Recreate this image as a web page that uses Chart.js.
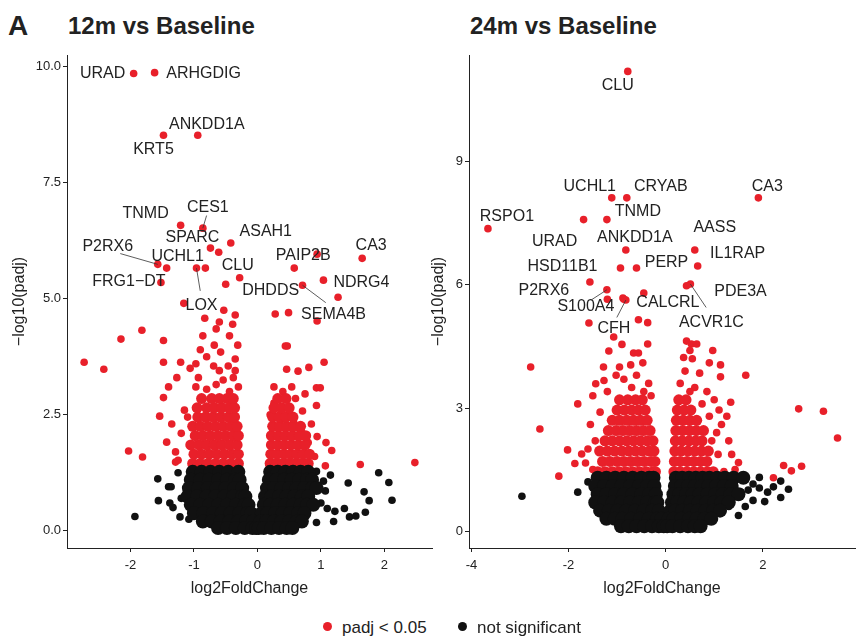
<!DOCTYPE html>
<html>
<head>
<meta charset="utf-8">
<script src="https://cdn.jsdelivr.net/npm/chart.js@4"></script>
<style>
  body { margin: 0; background: #fff; font-family: 'Liberation Sans', Arial, sans-serif; }
  .wrap { position: relative; width: 865px; height: 640px; }
  .box { position: absolute; top: 0; height: 610px; }
  .ttl { position: absolute; font-family: 'Liberation Sans Narrow', 'Liberation Sans', sans-serif; font-weight: bold; font-size: 24px; color: #222; }
  .leg { position: absolute; top: 618px; font-size: 17px; color: #222; }
  .dot { display: inline-block; width: 9px; height: 9px; border-radius: 50%; margin-right: 10px; vertical-align: 2px; }
</style>
</head>
<body>
<div class="wrap">
  <div class="ttl" style="left:8px;top:10px;font-size:28px">A</div>
  <div class="ttl" style="left:68px;top:12px">12m vs Baseline</div>
  <div class="ttl" style="left:470px;top:12px">24m vs Baseline</div>
  <div class="box" style="left:0;width:440px"><canvas id="c12"></canvas></div>
  <div class="box" style="left:425px;width:440px"><canvas id="c24"></canvas></div>
  <div class="leg" style="left:323px"><span class="dot" style="background:#e8202a"></span>padj &lt; 0.05</div>
  <div class="leg" style="left:458px"><span class="dot" style="background:#111"></span>not significant</div>
</div>
<script>
// --- 12m data ---
const xTicks12 = [-2, -1, 0, 1, 2];
const yTicks12 = [0, 2.5, 5, 7.5, 10];
const genes12 = ['URAD', 'ARHGDIG', 'ANKDD1A', 'KRT5', 'TNMD', 'CES1', 'SPARC', 'ASAH1', 'UCHL1', 'P2RX6', 'CLU', 'FRG1\u2212DT', 'LOX', 'DHDDS', 'PAIP2B', 'CA3', 'NDRG4', 'SEMA4B'];
const geneX12 = [-1.95, -1.62, -0.94, -1.48, -1.21, -0.86, -0.74, -0.42, -1.43, -1.57, -0.61, -1.52, -0.96, -0.5, 0.58, 1.65, 1.04, 0.71];
const geneY12 = [9.85, 9.87, 8.52, 8.52, 6.58, 6.52, 6.09, 6.2, 5.66, 5.74, 6.0, 5.35, 5.66, 5.31, 5.66, 5.87, 5.4, 5.29];
const red12 = [
  [-2.73,3.63],[-2.42,3.48],[-2.15,4.13],[-1.82,4.32],[-1.48,4.1],[-1.48,3.63],[-1.21,3.63],[-1.54,2.47],[-1.48,2.87],
  [-2.03,1.72],[-1.81,1.59],[-1.43,1.91],[-1.29,1.48],[-1.25,1.52],[-1.29,1.7],[-1.1,2.45],[-1.15,2.6],[-1.4,3.1],[-1.27,3.3],
  [-1.16,4.9],[-0.83,4.58],[-0.53,4.75],[-0.6,4.5],[-0.39,4.45],[-0.86,4.2],[-0.65,4.35],[-0.68,4.0],[-0.44,4.2],[-0.31,4.0],
  [-0.9,3.9],[-0.58,3.85],[-0.8,3.75],[-0.97,3.6],[-1.06,3.5],[-0.35,3.7],[-0.69,3.55],[-0.46,3.55],[-0.35,3.45],[-0.93,3.3],
  [-0.6,3.45],[-0.54,3.25],[-0.38,3.3],[-0.97,3.1],[-0.8,3.05],[-0.65,3.15],[-0.44,3.0],[-0.3,3.1],[-1.35,2.3],[-1.2,2.1],
  [-0.82,5.66],[-0.28,5.45],[-0.35,4.65],
  [0.28,4.67],[0.49,4.7],[0.94,4.52],[1.27,5.03],[0.44,3.98],[0.47,3.98],[0.46,3.48],[0.64,3.44],[0.81,3.52],[1.05,3.63],
  [0.93,3.08],[0.99,3.08],[0.26,3.1],[0.4,3.0],[0.54,3.1],[0.6,2.85],[0.75,2.95],[0.93,2.7],[0.71,2.58],[0.2,2.5],[0.26,2.75],
  [0.37,2.4],[0.57,2.35],[0.69,2.15],[0.94,2.03],[1.08,1.9],[1.17,1.73],[1.07,1.4],[1.62,1.43],[2.48,1.47],[0.94,5.96],
  [0.85,2.3],[0.9,1.6],[0.8,1.9]
];
const redCore12 = [
  [1.45, [-1.02,-0.9,-0.78,-0.66,-0.54,-0.42,-0.3, 0.2,0.3,0.4,0.5,0.6,0.7,0.8]],
  [1.65, [-1.0,-0.88,-0.76,-0.64,-0.52,-0.4,-0.3, 0.21,0.31,0.42,0.52,0.62,0.72,0.82]],
  [1.85, [-1.05,-0.92,-0.8,-0.68,-0.56,-0.44,-0.32, 0.22,0.32,0.42,0.53,0.64,0.75]],
  [2.05, [-0.98,-0.86,-0.74,-0.62,-0.5,-0.38,-0.3, 0.22,0.33,0.44,0.55,0.66,0.76]],
  [2.25, [-1.02,-0.9,-0.78,-0.66,-0.54,-0.42,-0.32, 0.24,0.35,0.46,0.57,0.68]],
  [2.45, [-0.94,-0.82,-0.7,-0.58,-0.46,-0.36, 0.24,0.34,0.45,0.56]],
  [2.65, [-0.95,-0.8,-0.68,-0.56,-0.44,-0.36, 0.26,0.38,0.5]],
  [2.85, [-0.88,-0.72,-0.6,-0.48,-0.38, 0.32,0.45]]
];
const black12 = [
  [-1.93,0.31],[-1.57,1.12],[-1.56,0.65],[-1.4,0.95],[-1.36,0.95],[-1.38,0.6],[-1.33,0.5],[-1.25,1.25],[-1.22,0.3],[-1.08,0.25],[-1.2,0.7],
  [1.43,1.03],[1.91,1.25],[2.07,1.04],[2.12,0.66],[1.68,0.84],[1.76,0.65],[1.45,0.3],[1.55,0.32],[1.7,0.4],[1.37,0.48],[1.22,0.42],
  [1.07,0.86],[1.04,1.07],[1.1,0.48],[0.93,0.18],[0.93,1.28],[1.15,1.2],[1.0,0.6],[1.2,0.2]
];
const blackCore12 = [
  [1.27, [-1.02,-0.88,-0.74,-0.6,-0.46,-0.3, 0.2,0.32,0.44,0.56,0.68,0.8]],
  [1.1, [-1.05,-0.9,-0.76,-0.62,-0.48,-0.35,-0.28, 0.18,0.3,0.42,0.54,0.66,0.78,0.86]],
  [0.92, [-1.08,-0.93,-0.78,-0.64,-0.5,-0.36,-0.24, 0.15,0.26,0.38,0.5,0.62,0.74,0.86,0.93]],
  [0.74, [-1.1,-0.95,-0.8,-0.66,-0.52,-0.38,-0.24,-0.19, 0.12,0.22,0.34,0.46,0.58,0.7,0.8]],
  [0.56, [-1.05,-0.9,-0.76,-0.62,-0.48,-0.34,-0.2,-0.14, 0.1,0.2,0.32,0.44,0.56,0.68,0.78,0.88]],
  [0.38, [-1.0,-0.85,-0.7,-0.56,-0.42,-0.28,-0.16,-0.1, 0.07,0.16,0.28,0.4,0.52,0.64,0.74]],
  [0.2, [-0.86,-0.72,-0.58,-0.44,-0.3,-0.18,-0.07, 0.05,0.14,0.26,0.38,0.5,0.62,0.7]],
  [0.06, [-0.62,-0.48,-0.34,-0.2,-0.08,-0.02, 0.02,0.1,0.22,0.34,0.46,0.55]]
];

// --- 24m data ---
const xTicks24 = [-4, -2, 0, 2];
const yTicks24 = [0, 3, 6, 9];
const genes24 = ['CLU', 'UCHL1', 'CRYAB', 'CA3', 'RSPO1', 'TNMD', 'URAD', 'ANKDD1A', 'AASS', 'IL1RAP', 'HSD11B1', 'PERP', 'P2RX6', 'PDE3A', 'S100A4', 'CALCRL', 'CFH', 'ACVR1C'];
const geneX24 = [-0.78, -1.11, -0.8, 1.91, -3.66, -1.21, -1.69, -0.82, 0.6, 0.66, -0.93, -0.6, -1.56, 0.43, -1.21, -0.88, -0.82, 0.51];
const geneY24 = [11.2, 8.12, 8.12, 8.12, 7.37, 7.59, 7.59, 6.85, 6.85, 6.46, 6.41, 6.41, 6.07, 5.98, 5.88, 5.68, 5.63, 6.02];
const red24 = [
  [-2.78,4.0],[-1.81,3.1],[-2.59,2.49],[-2.02,1.98],[-2.2,1.34],[-1.87,1.65],[-1.73,1.88],[-1.65,1.66],[-1.44,3.59],[-1.27,3.67],
  [-1.28,4.0],[-1.17,4.39],[-1.58,5.07],[-1.07,4.73],[-0.9,4.55],[-0.66,4.34],[-0.56,4.34],[-0.37,4.56],[-0.37,5.08],[-0.56,5.15],
  [-0.45,5.8],[-0.86,5.65],[-1.2,5.65],[-0.47,4.1],[-0.72,4.05],[-0.95,4.0],[-1.02,3.8],[-0.86,3.7],[-0.6,3.8],[-0.35,3.6],
  [-1.5,3.3],[-1.2,3.4],[-0.7,3.5],[-0.45,3.4],[-1.55,2.6],[-1.45,2.2],[-1.6,2.0],[-1.5,1.5],[-1.35,2.9],[-0.3,3.3],
  [0.43,4.63],[0.53,4.56],[0.64,4.56],[0.5,4.4],[0.97,4.4],[0.37,4.23],[0.55,4.2],[1.13,4.05],[1.13,3.76],[1.65,3.8],
  [0.4,3.9],[0.7,3.85],[0.9,4.1],[0.3,3.6],[0.6,3.5],[0.85,3.4],[1.0,3.2],[0.75,3.1],[0.5,3.4],
  [1.34,3.14],[1.1,2.95],[1.26,2.8],[1.3,2.2],[1.36,1.87],[1.5,1.67],[1.43,1.5],[1.08,1.87],[2.74,2.98],[3.25,2.92],
  [3.54,2.27],[2.43,1.6],[2.59,1.47],[2.8,1.58],[2.22,1.3],[1.05,2.4],[1.15,2.6],[0.95,2.2],[1.2,1.45],[0.9,2.8]
];
const redCore24 = [
  [1.45, [-1.4,-1.25,-1.1,-0.96,-0.82,-0.68,-0.54,-0.4,-0.26,-0.21, 0.17,0.3,0.44,0.58,0.72,0.86,0.98]],
  [1.7, [-1.3,-1.15,-1.0,-0.86,-0.72,-0.58,-0.44,-0.3,-0.22, 0.18,0.3,0.44,0.58,0.72,0.85]],
  [1.95, [-1.36,-1.2,-1.05,-0.9,-0.76,-0.62,-0.48,-0.34,-0.24, 0.19,0.32,0.46,0.6,0.74,0.88]],
  [2.2, [-1.25,-1.1,-0.95,-0.8,-0.66,-0.52,-0.38,-0.26, 0.2,0.34,0.48,0.62,0.75]],
  [2.45, [-1.18,-1.02,-0.88,-0.74,-0.6,-0.46,-0.32, 0.21,0.35,0.49,0.63,0.78]],
  [2.7, [-1.1,-0.95,-0.8,-0.66,-0.52,-0.38, 0.22,0.36,0.5,0.64]],
  [2.95, [-1.0,-0.85,-0.7,-0.56,-0.42, 0.24,0.38,0.52]],
  [3.2, [-0.95,-0.78,-0.62,-0.48, 0.27,0.42]]
];
const black24 = [
  [-2.96,0.85],[-1.81,0.95],[-1.42,1.05],[-1.41,0.84],[-1.27,0.8],[-1.6,1.2],
  [1.64,1.25],[1.8,1.15],[1.93,1.31],[1.93,1.05],[2.22,1.08],[2.37,1.22],[2.53,1.02],[2.37,0.82],[2.04,0.72],[1.64,0.6],
  [1.5,0.38],[1.8,0.75],[1.4,0.9],[1.55,0.95],[1.7,1.0],[2.1,0.95],[1.3,0.6]
];
const blackCore24 = [
  [1.3, [-1.4,-1.22,-1.04,-0.86,-0.68,-0.5,-0.34,-0.25, 0.21,0.34,0.48,0.62,0.76,0.9,1.06,1.22,1.4,1.6]],
  [1.1, [-1.45,-1.27,-1.09,-0.91,-0.73,-0.55,-0.38,-0.23, 0.19,0.32,0.46,0.6,0.74,0.88,1.04,1.2,1.36]],
  [0.9, [-1.4,-1.22,-1.04,-0.86,-0.68,-0.5,-0.34,-0.2, 0.16,0.28,0.42,0.56,0.7,0.86,1.02,1.18,1.34,1.5]],
  [0.7, [-1.45,-1.27,-1.09,-0.91,-0.73,-0.55,-0.38,-0.22,-0.17, 0.13,0.24,0.38,0.52,0.68,0.84,1.0,1.15,1.3]],
  [0.5, [-1.35,-1.17,-0.99,-0.81,-0.63,-0.45,-0.28,-0.14, 0.1,0.2,0.34,0.5,0.66,0.82,0.98,1.12]],
  [0.3, [-1.22,-1.05,-0.89,-0.71,-0.53,-0.35,-0.18,-0.09, 0.06,0.16,0.32,0.48,0.64,0.8,0.94]],
  [0.12, [-0.92,-0.76,-0.6,-0.44,-0.28,-0.14,-0.04, 0.03,0.14,0.3,0.46,0.6,0.72]]
];

// label placement (pixel offsets from the point; true = leader line)
const labelPos12 = [[-31,0],[49,1],[9,-11],[-10,14],[-35,-12],[5,-21,true],[-18,-11],[35,-11],[11,-11],[-50,-18,true],[19,13],[-32,-1],[5,38,true],[45,6],[9,-12],[9,-13],[38,2],[31,29,true]];
const labelPos24 = [[-10,14],[-22,-11],[34,-11],[9,-11],[19,-12],[31,-8],[-29,22],[9,-12],[20,-22],[40,-12],[-58,-1],[30,-5],[-46,9],[54,6],[-21,17,true],[45,5],[-12,29,true],[21,39,true]];

const RED = '#e8202a', BLK = '#111111';
const rowsToPts = rows => rows.flatMap(([y, xs]) => xs.map(x => ({ x, y })));
const pairsToPts = pairs => pairs.map(([x, y]) => ({ x, y }));

const geneLabels = {
  id: 'geneLabels',
  afterDatasetsDraw(chart, args, opts) {
    const { ctx, scales: { x, y } } = chart;
    ctx.save();
    ctx.font = '16px "Liberation Sans", Arial, sans-serif';
    ctx.fillStyle = '#222';
    ctx.strokeStyle = '#333';
    ctx.lineWidth = 0.8;
    ctx.textAlign = 'center';
    ctx.textBaseline = 'middle';
    opts.names.forEach((name, i) => {
      const px = x.getPixelForValue(opts.xs[i]);
      const py = y.getPixelForValue(opts.ys[i]);
      const [dx, dy, line] = opts.pos[i];
      if (line) {
        ctx.beginPath();
        ctx.moveTo(px, py);
        ctx.lineTo(px + dx * 0.75, py + dy * 0.6);
        ctx.stroke();
      }
      ctx.fillText(name, px + dx, py + dy);
    });
    ctx.restore();
  }
};

function makeChart(id, cfg) {
  const ds = (data, color, r) => ({ data, backgroundColor: color, borderWidth: 0, pointRadius: r, pointHoverRadius: r });
  const tickFont = { size: 13, family: '"Liberation Sans", Arial, sans-serif' };
  const titleFont = { size: 16, family: '"Liberation Sans", Arial, sans-serif' };
  new Chart(document.getElementById(id), {
    type: 'scatter',
    data: {
      datasets: [
        ds(rowsToPts(cfg.blackCore), BLK, 7),
        ds(pairsToPts(cfg.black), BLK, 3.8),
        ds(rowsToPts(cfg.redCore), RED, 5.5),
        ds(pairsToPts(cfg.red), RED, 3.8),
        ds(cfg.gx.map((x, i) => ({ x, y: cfg.gy[i] })), RED, 3.8)
      ]
    },
    options: {
      responsive: true,
      maintainAspectRatio: false,
      animation: false,
      layout: { padding: { top: 55, right: cfg.padRight, left: cfg.padLeft, bottom: 12 } },
      plugins: {
        legend: { display: false },
        tooltip: { enabled: false },
        geneLabels: { names: cfg.genes, xs: cfg.gx, ys: cfg.gy, pos: cfg.pos }
      },
      scales: {
        x: {
          type: 'linear', min: cfg.xMin, max: cfg.xMax,
          afterBuildTicks: s => { s.ticks = cfg.xTicks.map(v => ({ value: v })); },
          afterFit: s => { s.height = 50; },
          grid: { drawOnChartArea: false, tickLength: 4, color: '#222' },
          border: { color: '#222', width: 1 },
          ticks: { color: '#222', font: tickFont, padding: 6 },
          title: { display: true, text: 'log2FoldChange', color: '#222', font: titleFont, padding: 0 }
        },
        y: {
          type: 'linear', min: cfg.yMin, max: cfg.yMax,
          afterBuildTicks: s => { s.ticks = cfg.yTicks.map(v => ({ value: v })); },
          afterFit: s => { s.width = cfg.yWidth; },
          grid: { drawOnChartArea: false, tickLength: 4, color: '#222' },
          border: { color: '#222', width: 1 },
          ticks: { color: '#222', font: tickFont, padding: 2, callback: cfg.yFmt },
          title: { display: true, text: '\u2212log10(padj)', color: '#222', font: titleFont, padding: 0 }
        }
      }
    },
    plugins: [geneLabels]
  });
}

makeChart('c12', {
  blackCore: blackCore12, black: black12, redCore: redCore12, red: red12,
  genes: genes12, gx: geneX12, gy: geneY12, pos: labelPos12,
  xMin: -3.0, xMax: 2.75, yMin: -0.37, yMax: 10.25, xTicks: xTicks12, yTicks: yTicks12,
  yWidth: 57, padLeft: 10, padRight: 8, yFmt: v => v.toFixed(1)
});
makeChart('c24', {
  blackCore: blackCore24, black: black24, redCore: redCore24, red: red24,
  genes: genes24, gx: geneX24, gy: geneY24, pos: labelPos24,
  xMin: -4.05, xMax: 3.9, yMin: -0.41, yMax: 11.6, xTicks: xTicks24, yTicks: yTicks24,
  yWidth: 40, padLeft: 4, padRight: 10, yFmt: v => v
});
</script>
</body>
</html>
